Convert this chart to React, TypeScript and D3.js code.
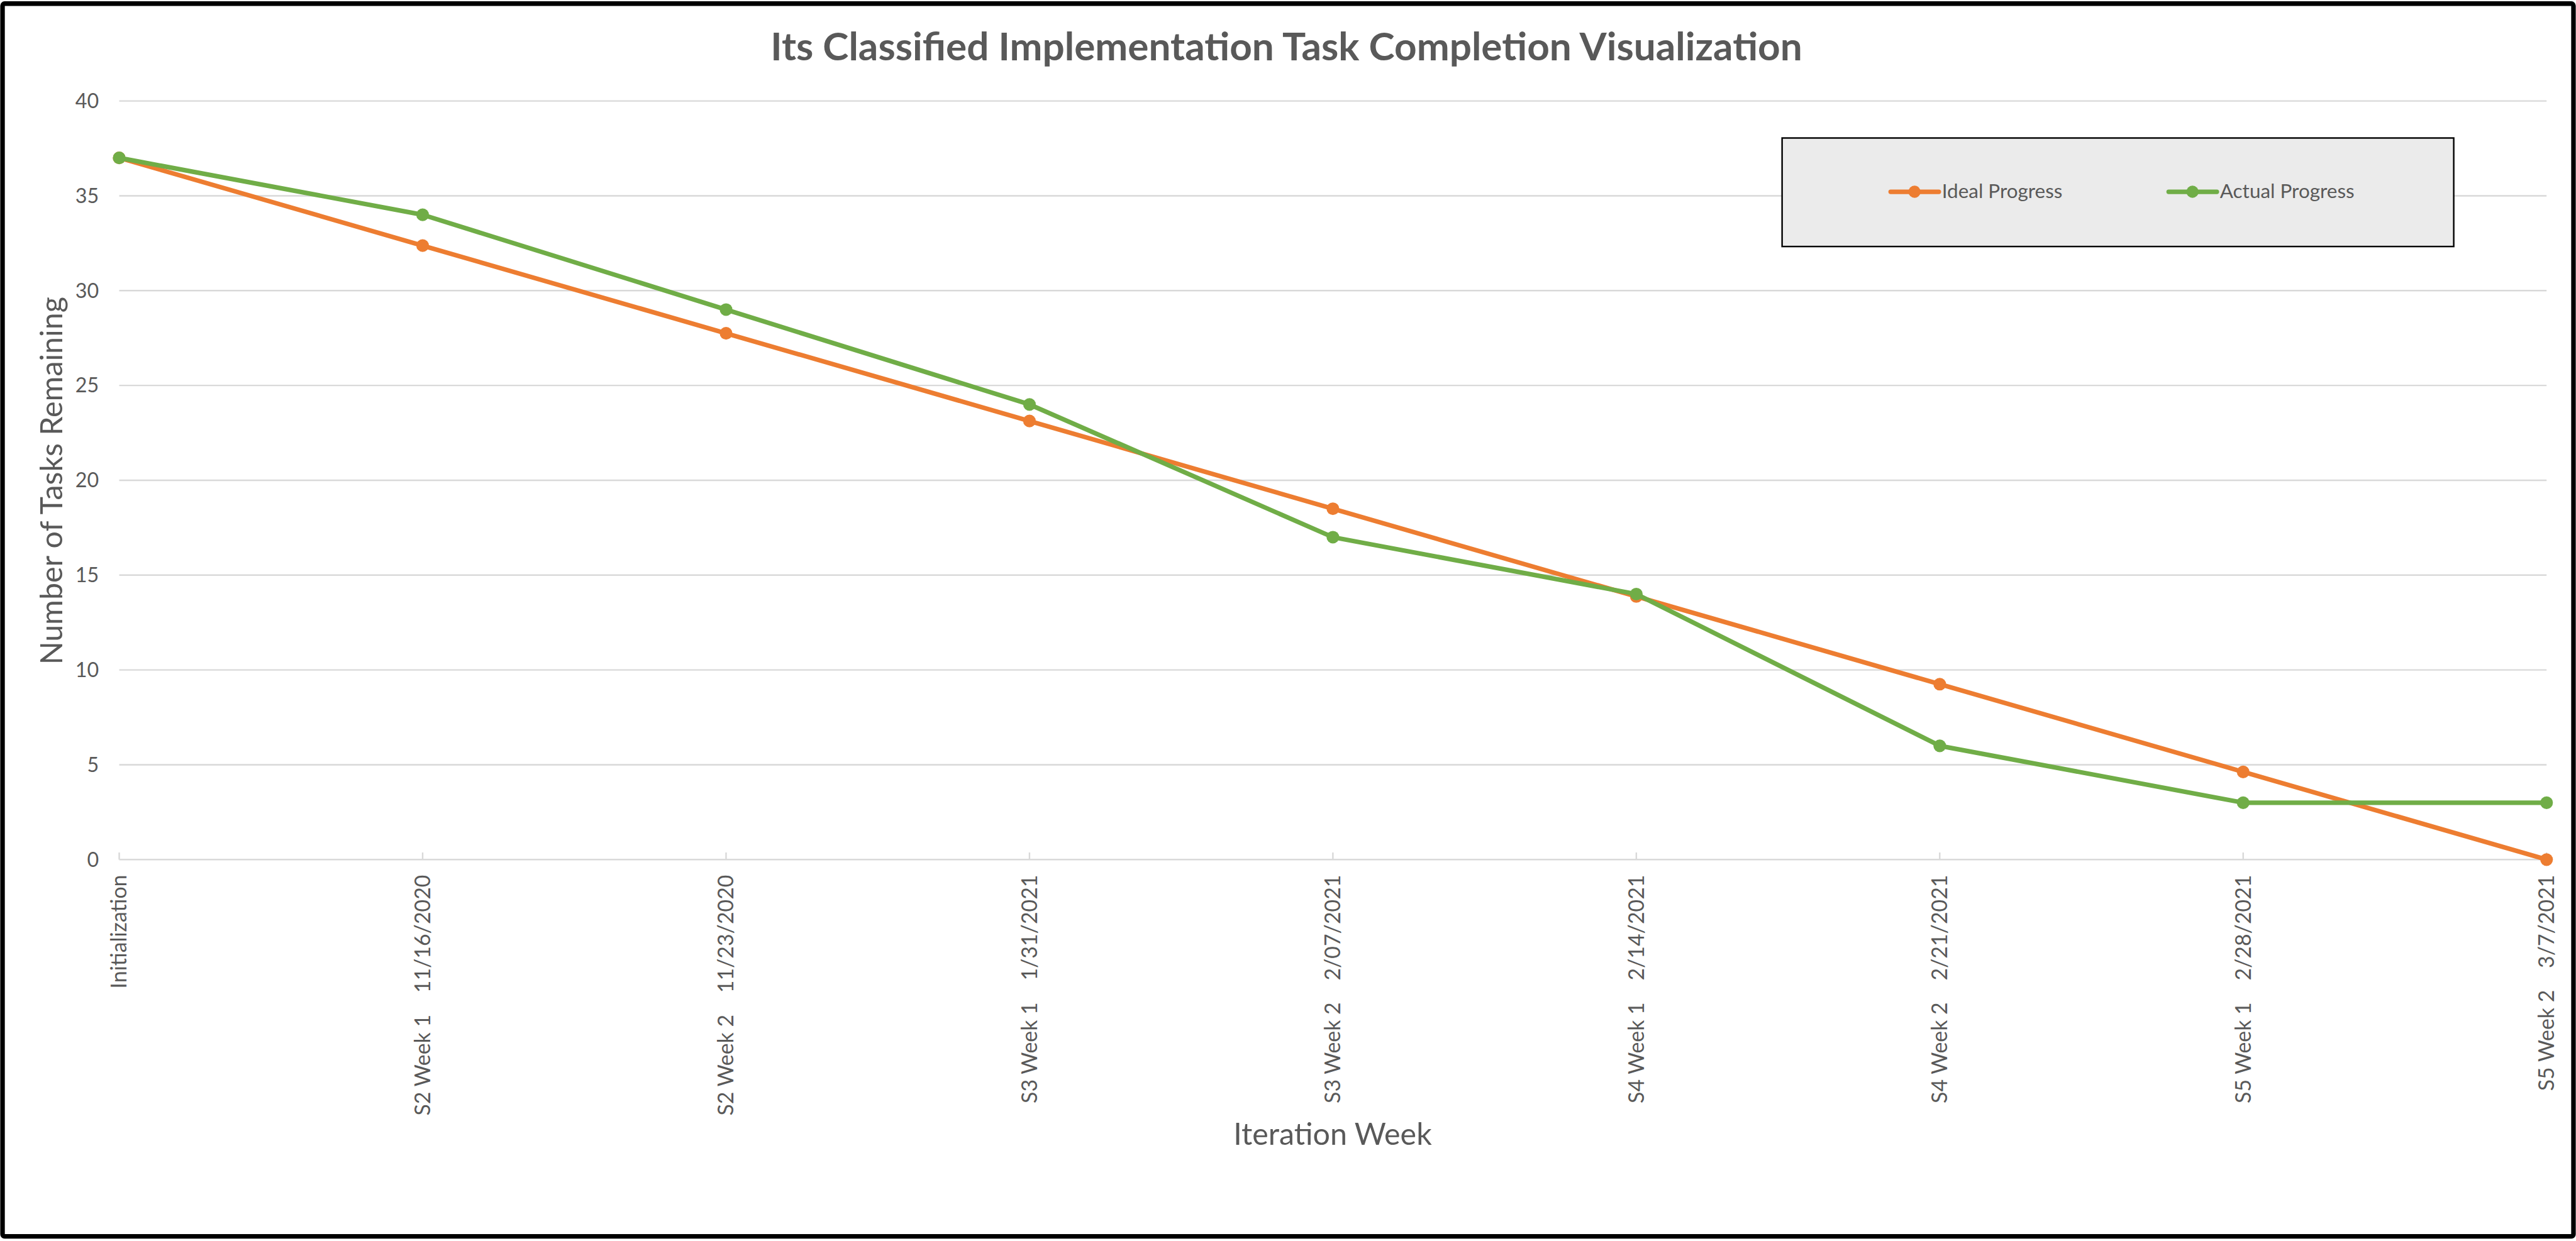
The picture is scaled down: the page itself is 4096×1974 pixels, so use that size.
import React from "react";
import * as d3 from "d3";

// categories on the x axis
const weeks = [
  "Initialization",
  "S2 Week 1    11/16/2020",
  "S2 Week 2    11/23/2020",
  "S3 Week 1    1/31/2021",
  "S3 Week 2    2/07/2021",
  "S4 Week 1    2/14/2021",
  "S4 Week 2    2/21/2021",
  "S5 Week 1    2/28/2021",
  "S5 Week 2    3/7/2021",
];

// series values
const idealProgress = [37, 32.375, 27.75, 23.125, 18.5, 13.875, 9.25, 4.625, 0];
const actualProgress = [37, 34, 29, 24, 17, 14, 6, 3, 3];

const yTicks = [0, 5, 10, 15, 20, 25, 30, 35, 40];

const seriesNames = ["Ideal Progress", "Actual Progress"];
const colors = ["#ED7D31", "#70AD47"];

const W = 5078;
const H = 2447;
const font = "Lato, 'Open Sans', sans-serif";
const textColor = "#595959";

const App = () => {
  const xScale = d3.scalePoint().domain(weeks).range([235, 5020]);
  const yScale = d3.scaleLinear().domain([0, 40]).range([1695, 199]);

  const line = d3
    .line()
    .x((d, i) => xScale(weeks[i]))
    .y((d) => yScale(d));

  const series = [idealProgress, actualProgress];

  return (
    <svg
      width={4096}
      height={1974}
      viewBox={`0 0 ${W} ${H}`}
      style={{ position: "absolute", left: 0, top: 0, background: "white" }}
    >
      <rect x={0} y={0} width={W} height={H} fill="white" />
      {/* outer border */}
      <rect
        x={5}
        y={7}
        width={W - 10}
        height={2431}
        fill="none"
        stroke="black"
        strokeWidth={9}
        rx={4}
      />

      <text
        x={2536}
        y={119}
        textAnchor="middle"
        fontFamily={font}
        fontWeight="bold"
        fontSize={77}
        fill={textColor}
      >
        Its Classified Implementation Task Completion Visualization
      </text>

      {/* gridlines */}
      <g className="grid">
        {yTicks.map((t) => (
          <line
            key={t}
            x1={235}
            x2={5020}
            y1={yScale(t)}
            y2={yScale(t)}
            stroke="#d9d9d9"
            strokeWidth={3}
          />
        ))}
      </g>

      {/* y tick labels */}
      <g className="yScale">
        {yTicks.map((t) => (
          <text
            key={t}
            x={195}
            y={yScale(t)}
            dy="0.35em"
            textAnchor="end"
            fontFamily={font}
            fontSize={40}
            fill={textColor}
          >
            {t}
          </text>
        ))}
      </g>

      {/* x ticks + labels */}
      <g className="xScale">
        {weeks.map((w) => (
          <g key={w}>
            <line
              x1={xScale(w)}
              x2={xScale(w)}
              y1={1681}
              y2={1695}
              stroke="#d9d9d9"
              strokeWidth={3}
            />
            <text
              transform={`translate(${xScale(w)},1725) rotate(-90)`}
              dy="0.35em"
              textAnchor="end"
              fontFamily={font}
              fontSize={42}
              fill={textColor}
              style={{ whiteSpace: "pre" }}
            >
              {w}
            </text>
          </g>
        ))}
      </g>

      <text
        transform="translate(123,948) rotate(-90)"
        textAnchor="middle"
        fontFamily={font}
        fontSize={60}
        fill={textColor}
      >
        Number of Tasks Remaining
      </text>
      <text
        x={2627}
        y={2258}
        textAnchor="middle"
        fontFamily={font}
        fontSize={60}
        fill={textColor}
      >
        Iteration Week
      </text>

      {/* lines */}
      <g className="lines">
        {series.map((s, k) => (
          <g key={k}>
            <path
              d={line(s)}
              fill="none"
              stroke={colors[k]}
              strokeWidth={9}
              strokeLinejoin="round"
              strokeLinecap="round"
            />
            {s.map((v, i) => (
              <circle
                key={i}
                cx={xScale(weeks[i])}
                cy={yScale(v)}
                r={12.5}
                fill={colors[k]}
              />
            ))}
          </g>
        ))}
      </g>

      {/* legend */}
      <g className="legend">
        <rect
          x={3513}
          y={272}
          width={1324}
          height={214}
          fill="#ebebeb"
          stroke="black"
          strokeWidth={3}
        />
        {seriesNames.map((name, k) => {
          const x0 = k === 0 ? 3727 : 4275;
          return (
            <g key={name}>
              <line
                x1={x0}
                x2={x0 + 95}
                y1={378}
                y2={378}
                stroke={colors[k]}
                strokeWidth={9}
                strokeLinecap="round"
              />
              <circle cx={x0 + 47} cy={378} r={12} fill={colors[k]} />
              <text
                x={x0 + 101}
                y={390}
                fontFamily={font}
                fontSize={39}
                fill={textColor}
              >
                {name}
              </text>
            </g>
          );
        })}
      </g>
    </svg>
  );
};

export default App;
